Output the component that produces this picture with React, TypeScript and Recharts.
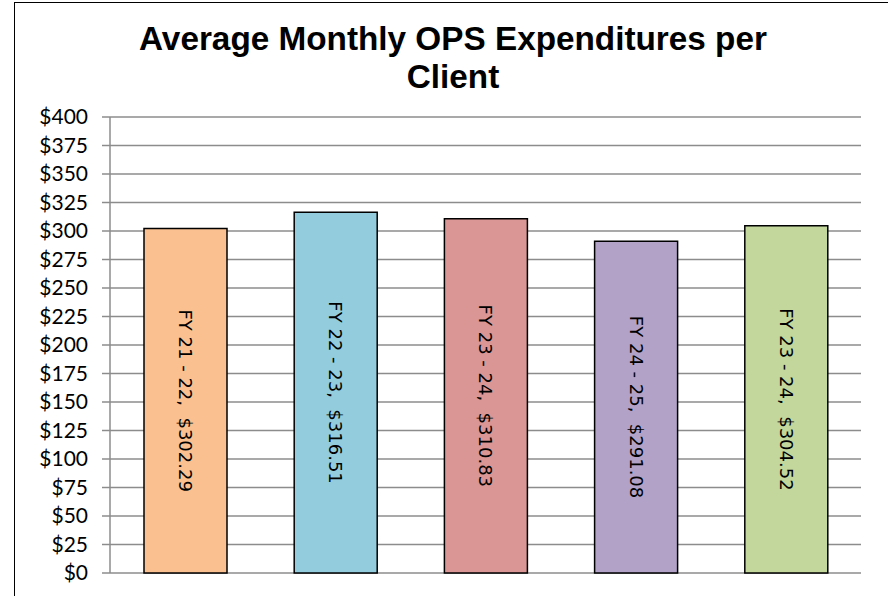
import { Bar, BarChart, CartesianGrid, Cell, LabelList, XAxis, YAxis } from 'recharts';

const categories = ['FY 21 - 22', 'FY 22 - 23', 'FY 23 - 24', 'FY 24 - 25', 'FY 23 - 24'];
const values = [302.29, 316.51, 310.83, 291.08, 304.52];
const colors = ['#FAC090', '#93CDDD', '#D99694', '#B3A2C7', '#C3D69B'];
const yTicks = [0, 25, 50, 75, 100, 125, 150, 175, 200, 225, 250, 275, 300, 325, 350, 375, 400];

const chartData = categories.map((name, i) => ({ key: `c${i}`, name, value: values[i] }));

const BarLabel = (props: any) => {
  const { x, y, width, height, index } = props;
  const cx = x + width / 2;
  const cy = y + height / 2;
  const text = `${categories[index]},  $${values[index].toFixed(2)}`;
  return (
    <text
      x={cx}
      y={cy}
      transform={`rotate(90, ${cx}, ${cy})`}
      textAnchor="middle"
      dominantBaseline="central"
      fill="#000"
      style={{ whiteSpace: 'pre', fontFamily: '"DejaVu Sans", sans-serif', fontSize: 18 }}
    >
      {text}
    </text>
  );
};

export default function App() {
  return (
    <div style={{ position: 'absolute', left: 0, top: 0, width: 888, height: 596, overflow: 'hidden', background: '#fff' }}>
      <div
        style={{
          position: 'absolute',
          left: 14,
          top: 2,
          width: 900,
          height: 700,
          border: '1.5px solid #000',
        }}
      />
      <div
        style={{
          position: 'absolute',
          left: 0,
          top: 20,
          width: 906,
          textAlign: 'center',
          fontFamily: '"Liberation Sans", Arial, sans-serif',
          fontWeight: 'bold',
          fontSize: 33.3,
          lineHeight: '38px',
          color: '#000',
        }}
      >
        Average Monthly OPS Expenditures per
        <br />
        Client
      </div>
      <div style={{ position: 'absolute', left: 0, top: 0 }}>
        <BarChart
          width={888}
          height={596}
          data={chartData}
          margin={{ top: 117, right: 27, bottom: 23, left: 0 }}
          barSize={83}
        >
          <CartesianGrid vertical={false} stroke="#8c8c8c" strokeWidth={1.5} />
          <XAxis dataKey="key" hide />
          <YAxis
            width={110}
            domain={[0, 400]}
            ticks={yTicks}
            interval={0}
            tickFormatter={(v: number) => `$${v}`}
            stroke="#8c8c8c"
            strokeWidth={1.5}
            tickSize={8}
            tickMargin={14}
            tick={{ fill: '#000', fontSize: 21, fontFamily: 'Lato, "Open Sans", sans-serif' }}
          />
          <Bar dataKey="value" stroke="#000" strokeWidth={1.5} isAnimationActive={false}>
            {chartData.map((d, i) => (
              <Cell key={d.key} fill={colors[i]} />
            ))}
            <LabelList dataKey="value" content={BarLabel} />
          </Bar>
        </BarChart>
      </div>
    </div>
  );
}
